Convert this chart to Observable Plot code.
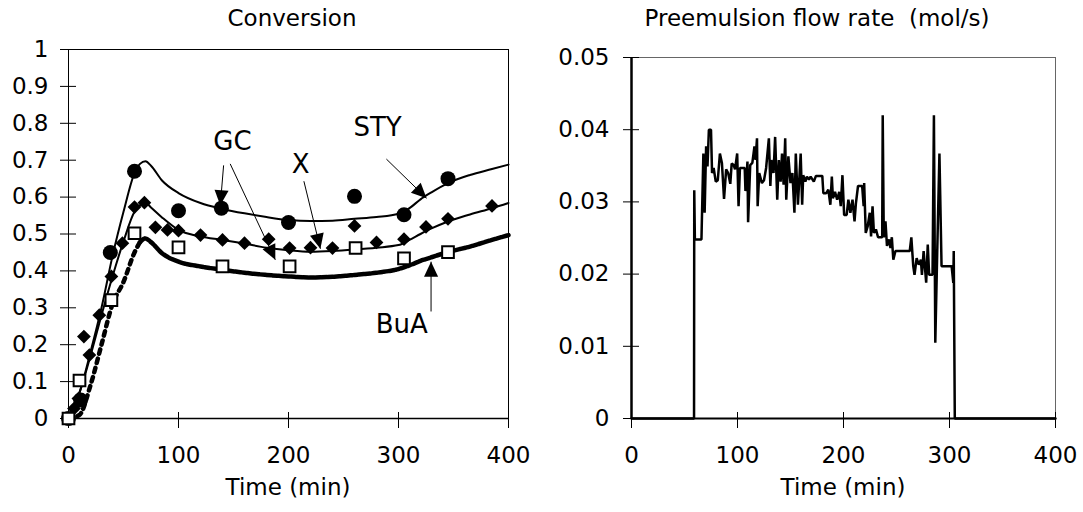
<!DOCTYPE html>
<html><head><meta charset="utf-8">
<script src="https://cdn.jsdelivr.net/npm/d3@7"></script>
<script src="https://cdn.jsdelivr.net/npm/@observablehq/plot@0.6"></script>
<style>
body{margin:0;background:#fff;}
#wrap{position:relative;width:1083px;height:512px;font-family:"DejaVu Sans",sans-serif;color:#000;overflow:hidden;}
.t{position:absolute;font-size:23px;line-height:23px;white-space:pre;transform:translateX(-50%);}
#wrap svg{position:absolute;top:0;}
</style></head><body><div id="wrap"></div>
<script>
// ---------- data ----------
const timeTicks = [0, 100, 200, 300, 400];
const convTicks = [0, 0.1, 0.2, 0.3, 0.4, 0.5, 0.6, 0.7, 0.8, 0.9, 1];
const flowTicks = [0, 0.01, 0.02, 0.03, 0.04, 0.05];

// model curves (lines)
const modelTime = [0, 10, 20, 30, 40, 50, 60, 65, 70, 75, 85, 100, 120, 140, 160, 180, 200, 220, 240, 260, 280, 300, 310, 320, 330, 345, 365, 385, 400];
const modelSTY  = [0, 0.07, 0.18, 0.30, 0.44, 0.56, 0.665, 0.69, 0.697, 0.685, 0.645, 0.611, 0.584, 0.568, 0.556, 0.546, 0.538, 0.535, 0.536, 0.541, 0.546, 0.555, 0.57, 0.594, 0.613, 0.638, 0.660, 0.676, 0.688];
const modelX    = [0, 0.07, 0.17, 0.28, 0.385, 0.48, 0.56, 0.578, 0.585, 0.572, 0.545, 0.511, 0.493, 0.484, 0.474, 0.463, 0.456, 0.452, 0.454, 0.458, 0.463, 0.47, 0.484, 0.5, 0.515, 0.534, 0.553, 0.570, 0.584];
const modelBuA  = [0, 0.01, 0.09, 0.2, 0.31, 0.37, 0.45, 0.478, 0.488, 0.478, 0.448, 0.425, 0.412, 0.403, 0.395, 0.389, 0.385, 0.382, 0.384, 0.389, 0.395, 0.405, 0.415, 0.427, 0.437, 0.451, 0.466, 0.484, 0.497];

// experimental points
const styTime = [0, 11, 38, 60, 100, 139, 200, 260, 305, 345];
const styConv = [0, 0.05, 0.45, 0.67, 0.563, 0.57, 0.531, 0.602, 0.552, 0.65];
const xTime = [0, 5, 9, 14, 19, 28, 39, 49, 60, 69, 79, 90, 100, 120, 140, 160, 182, 201, 220, 240, 260, 280, 305, 325, 345, 385];
const xConv = [0, 0.027, 0.054, 0.222, 0.172, 0.28, 0.385, 0.475, 0.573, 0.585, 0.518, 0.511, 0.509, 0.497, 0.484, 0.475, 0.486, 0.462, 0.463, 0.462, 0.522, 0.477, 0.486, 0.519, 0.541, 0.576];
const buaTime = [0, 10, 39, 60, 100, 140, 201, 261, 305, 345];
const buaConv = [0, 0.103, 0.321, 0.502, 0.464, 0.412, 0.412, 0.462, 0.434, 0.451];

// annotations
const annText = ["GC", "X", "STY", "BuA"];
const annX = [149, 211, 281, 303];
const annY = [0.751, 0.688, 0.787, 0.253];
const arrowX1 = [141, 147, 214, 289, 329.6];
const arrowY1 = [0.686, 0.69, 0.643, 0.703, 0.29];
const arrowX2 = [138, 188, 229, 325.5, 329.6];
const arrowY2 = [0.578, 0.43, 0.46, 0.597, 0.425];

// preemulsion flow rate [time (min), mol/s]
const flow = [
 [0,0],[59,0],[59.2,0.0316],[59.8,0.0248],[66,0.0248],[67.8,0.0367],[69,0.0285],[70.4,0.0377],[71.7,0.0349],[73,0.04],
 [75,0.04],[76,0.034],[77.5,0.0347],[79.5,0.0328],[81.4,0.033],[83.4,0.0367],[85.3,0.0354],[87.3,0.0304],[89.3,0.0345],[91.2,0.034],
 [93.2,0.0325],[94.5,0.0353],[96.4,0.0351],[97.7,0.0345],[99.7,0.0367],[101,0.0294],[102.3,0.0347],[106.8,0.0347],[107.5,0.0315],[109.4,0.0356],
 [110,0.0272],[112,0.0351],[114,0.0354],[116,0.0377],[117,0.0358],[118.4,0.0388],[119,0.0294],[120.5,0.034],[123,0.0326],[125,0.033],
 [127,0.0347],[129.6,0.0388],[131,0.0322],[132,0.0358],[134,0.034],[135.5,0.039],[137.5,0.0303],[139,0.0358],[140.7,0.0328],[142,0.0367],
 [143.5,0.0324],[145,0.0388],[146,0.0303],[148,0.0363],[150,0.0326],[151.8,0.034],[153.7,0.0285],[155,0.0367],[157,0.0296],[159.6,0.0367],
 [161,0.0296],[162,0.0337],[164,0.0328],[165.5,0.0335],[167.4,0.0331],[169,0.0335],[172,0.0328],[174,0.0336],[180,0.0336],[181,0.0312],
 [183.7,0.0312],[185.7,0.0317],[187.6,0.0296],[189,0.0335],[190,0.0305],[192,0.0314],[194,0.0303],[196,0.0314],[197.4,0.0294],[199,0.0337],
 [200.6,0.0282],[203,0.0282],[204.6,0.0303],[206.5,0.0285],[208.5,0.0303],[210.4,0.0273],[211.7,0.0298],[213.7,0.0322],[217.6,0.0322],[219,0.0294],
 [219.5,0.0326],[221,0.0257],[222.8,0.0266],[224.8,0.0285],[226,0.0252],[227.4,0.0294],[228.7,0.0257],[230.6,0.0262],[232.6,0.0251],[236.5,0.0251],
 [237,0.042],[238,0.0251],[239.6,0.0273],[241,0.0239],[243,0.0248],[244.3,0.0236],[245.6,0.0251],[247,0.022],[249,0.0232],[262.5,0.0232],
 [264,0.0251],[265.8,0.0211],[267,0.0199],[269,0.0222],[271,0.0213],[273,0.022],[274,0.0199],[275.6,0.0232],[277,0.0206],[278,0.0188],
 [279.5,0.0241],[280.8,0.0199],[284,0.0199],[285.3,0.042],[286.6,0.0105],[288.6,0.0243],[290.5,0.0367],[292.5,0.0211],[302,0.0211],[303.6,0.0188],
 [304,0.0232],[305,0],[400,0]
];

// ---------- layout ----------
const FONT = '"DejaVu Sans", sans-serif';
const H = 512;
const L = {w: 541, left: 68, right: 508, top: 49, bottom: 418};
const R = {w: 542, left: 90, right: 514, top: 57, bottom: 418}; // relative to right svg (offset 541)
const lW = L.right - L.left, lH = L.bottom - L.top;
const rW = R.right - R.left, rH = R.bottom - R.top;

const model = modelTime.map((t, i) => ({t, sty: modelSTY[i], x: modelX[i], bua: modelBuA[i]}));
const styPts = styTime.map((t, i) => ({t, v: styConv[i]}));
const xPts = xTime.map((t, i) => ({t, v: xConv[i]}));
const buaPts = buaTime.map((t, i) => ({t, v: buaConv[i]}));
const ann = annText.map((s, i) => ({s, x: annX[i], y: annY[i]}));
const arrows = arrowX1.map((x1, i) => ({x1, y1: arrowY1[i], x2: arrowX2[i], y2: arrowY2[i]}));
const pxX = lW / 400, pxY = lH / 1;
arrows.forEach(a => {
  const dx = (a.x2 - a.x1) * pxX, dy = -(a.y2 - a.y1) * pxY;
  a.rot = Math.atan2(dx, -dy) * 180 / Math.PI;
});
const headShape = {draw(ctx, l) { const w = l * 0.47; ctx.moveTo(0, -l); ctx.lineTo(w, 0); ctx.lineTo(-w, 0); ctx.closePath(); }};
const fmt = d => String(d);

const left = Plot.plot({
  width: L.w, height: H,
  marginLeft: L.left, marginRight: L.w - L.right, marginTop: L.top, marginBottom: H - L.bottom,
  style: {fontFamily: FONT, fontSize: "23px", color: "#000", background: "transparent", overflow: "visible"},
  x: {domain: [0, 400]},
  y: {domain: [0, 1]},
  marks: [
    Plot.frame({stroke: "#000", strokeWidth: 1}),
    Plot.ruleY([0], {stroke: "#000", strokeWidth: 1.5}),
    Plot.axisX(timeTicks, {tickSize: 10, tickPadding: 18, tickFormat: fmt, label: null}),
    Plot.axisY(convTicks, {tickSize: 8, tickPadding: 12, tickFormat: fmt, label: null}),
    Plot.tickY(convTicks, {y: d => d, insetRight: lW - 8, stroke: "#000"}),
    Plot.tickX(timeTicks, {x: d => d, insetTop: lH - 6, stroke: "#000"}),
    Plot.line(model, {x: "t", y: "bua", stroke: "#000", strokeWidth: 4.5, strokeDasharray: "4.5,5", curve: "monotone-x", filter: d => d.t <= 65}),
    Plot.line(model, {x: "t", y: "bua", stroke: "#000", strokeWidth: 4.5, strokeDasharray: "5,1.2", curve: "monotone-x", filter: d => d.t >= 65}),
    Plot.line(model, {x: "t", y: "x", stroke: "#000", strokeWidth: 2, curve: "monotone-x"}),
    Plot.line(model, {x: "t", y: "sty", stroke: "#000", strokeWidth: 2, curve: "monotone-x"}),
    Plot.dot(styPts, {x: "t", y: "v", r: 7.5, fill: "#000", stroke: "none"}),
    Plot.dot(xPts, {x: "t", y: "v", r: 6.2, symbol: "diamond2", fill: "#000", stroke: "none"}),
    Plot.dot(buaPts, {x: "t", y: "v", r: 6.6, symbol: "square", fill: "#fff", stroke: "#000", strokeWidth: 2}),
    Plot.link(arrows, {x1: "x1", y1: "y1", x2: "x2", y2: "y2", stroke: "#000", strokeWidth: 1}),
    Plot.vector(arrows, {x: "x2", y: "y2", rotate: "rot", length: 15, anchor: "end", shape: headShape, fill: "#000", stroke: "none"}),
    Plot.text(ann, {x: "x", y: "y", text: "s", fontSize: 26, fill: "#000"})
  ]
});

const right = Plot.plot({
  width: R.w, height: H,
  marginLeft: R.left, marginRight: R.w - R.right, marginTop: R.top, marginBottom: H - R.bottom,
  style: {fontFamily: FONT, fontSize: "23px", color: "#000", background: "transparent", overflow: "visible"},
  x: {domain: [0, 400]},
  y: {domain: [0, 0.05]},
  marks: [
    Plot.frame({stroke: "#666", strokeWidth: 1}),
    Plot.axisX(timeTicks, {tickSize: 10, tickPadding: 18, tickFormat: fmt, label: null}),
    Plot.axisY(flowTicks, {tickSize: 8, tickPadding: 14, tickFormat: fmt, label: null}),
    Plot.tickY(flowTicks, {y: d => d, insetRight: rW - 8, stroke: "#000"}),
    Plot.tickX(timeTicks, {x: d => d, insetTop: rH - 6, stroke: "#000"}),
    Plot.ruleX([0], {stroke: "#000", strokeWidth: 2.5}),
    Plot.ruleY([0], {stroke: "#000", strokeWidth: 2}),
    Plot.line(flow, {x: d => d[0], y: d => d[1], stroke: "#000", strokeWidth: 2.5, strokeLinejoin: "miter"})
  ]
});

const wrap = document.getElementById("wrap");
left.style.left = "0px";
right.style.left = L.w + "px";
wrap.appendChild(left);
wrap.appendChild(right);

function label(text, cx, top) {
  const d = document.createElement("div");
  d.className = "t"; d.textContent = text;
  d.style.left = cx + "px"; d.style.top = top + "px";
  wrap.appendChild(d);
}
label("Conversion", 292, 7);
label("Preemulsion flow rate  (mol/s)", 817, 7);
label("Time (min)", (L.left + L.right) / 2, 476);
label("Time (min)", L.w + (R.left + R.right) / 2, 476);
</script></body></html>
